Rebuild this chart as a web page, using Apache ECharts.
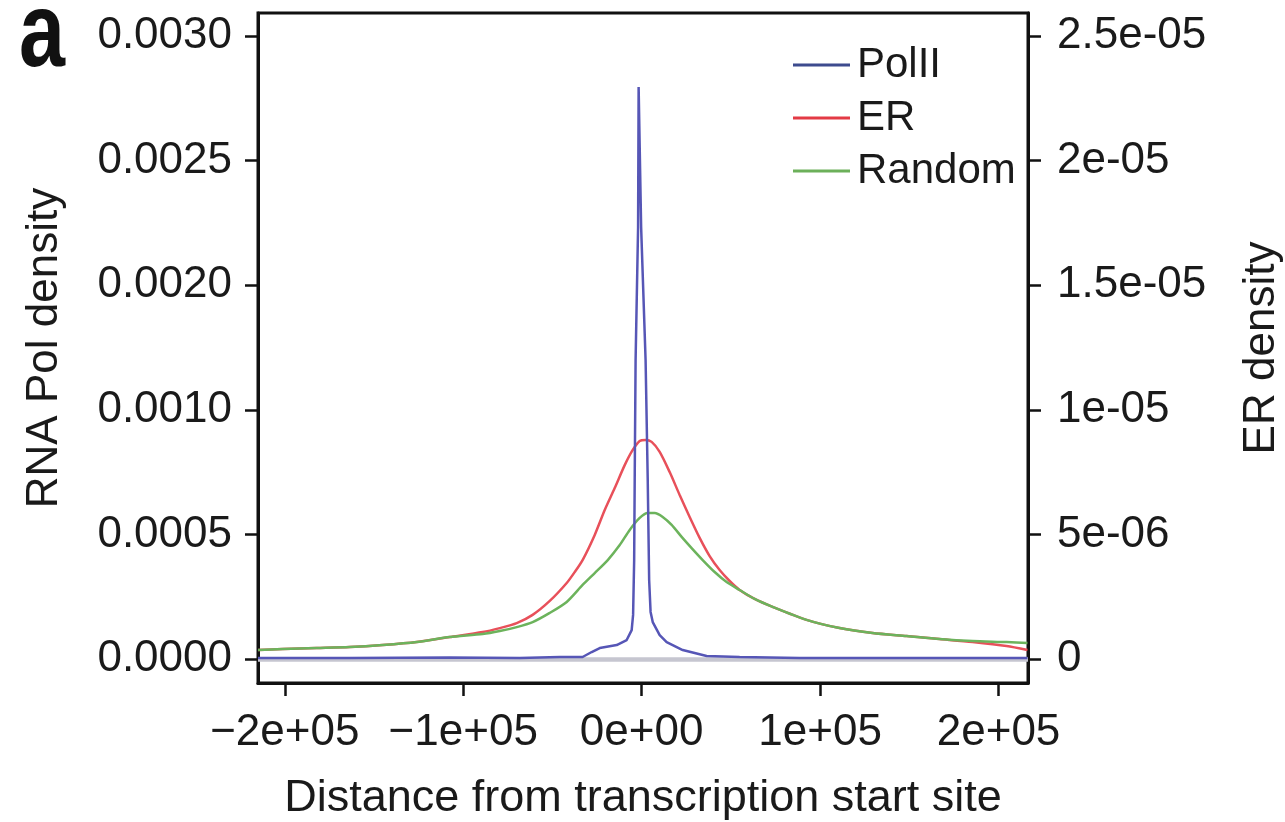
<!DOCTYPE html>
<html>
<head>
<meta charset="utf-8">
<script src="https://cdn.jsdelivr.net/npm/echarts@6/dist/echarts.min.js"></script>
<style>
html,body{margin:0;padding:0;background:#fff;}
#chart{width:1285px;height:822px;}
</style>
</head>
<body>
<div id="chart"></div>
<script>
// ---- data (x: distance from TSS in bp) ----
const polII = [
  [-215000, 0.000004], [-163600, 0.000004], [-107600, 0.000006], [-68300, 0.000004],
  [-45900, 0.000008], [-33100, 0.000008], [-28000, 0.000028], [-23500, 0.000044],
  [-14000, 0.000056], [-8400, 0.000076], [-5600, 0.000116], [-4800, 0.000177],
  [-4200, 0.000397], [-3900, 0.000718], [-3400, 0.0012], [-2000, 0.001733],
  [-1700, 0.002295], [-300, 0.001733], [2200, 0.0012], [3400, 0.000718],
  [4200, 0.000317], [5000, 0.000189], [6200, 0.000148], [10100, 0.000096],
  [14000, 0.000068], [23000, 0.000036], [36400, 0.000012], [54900, 0.000008],
  [88500, 0.000004], [144500, 0.000004], [216200, 0.000004]
];
const er = [
  [-215000, 3.6e-7], [-201100, 4.0e-7], [-182100, 4.4e-7], [-163600, 4.8e-7],
  [-145100, 5.6e-7], [-126000, 6.8e-7], [-107600, 8.8e-7], [-89100, 1.08e-6],
  [-79500, 1.24e-6], [-70000, 1.44e-6], [-61100, 1.77e-6], [-51500, 2.33e-6],
  [-42000, 3.05e-6], [-37500, 3.49e-6], [-33100, 3.97e-6], [-26300, 4.98e-6],
  [-20700, 5.98e-6], [-15100, 6.86e-6], [-9500, 7.78e-6], [-5000, 8.39e-6],
  [-1100, 8.75e-6], [2200, 8.79e-6], [5600, 8.71e-6], [10100, 8.31e-6],
  [15700, 7.50e-6], [21300, 6.58e-6], [26900, 5.70e-6], [32500, 4.86e-6],
  [38100, 4.13e-6], [43700, 3.57e-6], [49300, 3.13e-6], [54900, 2.77e-6],
  [63300, 2.41e-6], [73400, 2.09e-6], [92400, 1.57e-6], [110900, 1.24e-6],
  [129400, 1.04e-6], [148500, 9.2e-7], [166900, 8.0e-7], [185400, 6.8e-7],
  [204500, 5.2e-7], [216200, 3.6e-7]
];
const random = [
  [-215000, 3.6e-7], [-201100, 4.0e-7], [-182100, 4.4e-7], [-163600, 4.8e-7],
  [-145100, 5.6e-7], [-126000, 6.8e-7], [-107600, 8.8e-7], [-89100, 1.00e-6],
  [-79500, 1.12e-6], [-70000, 1.28e-6], [-61100, 1.48e-6], [-51500, 1.85e-6],
  [-42000, 2.29e-6], [-33100, 2.97e-6], [-26300, 3.45e-6], [-19000, 3.97e-6],
  [-12300, 4.57e-6], [-6700, 5.18e-6], [-1100, 5.66e-6], [3400, 5.86e-6],
  [7300, 5.86e-6], [11800, 5.70e-6], [16800, 5.38e-6], [22400, 4.90e-6],
  [28000, 4.45e-6], [34200, 3.97e-6], [40900, 3.49e-6], [47600, 3.09e-6],
  [54900, 2.77e-6], [63300, 2.41e-6], [73400, 2.09e-6], [92400, 1.57e-6],
  [110900, 1.24e-6], [129400, 1.04e-6], [148500, 9.2e-7], [166900, 8.0e-7],
  [185400, 7.2e-7], [204500, 6.8e-7], [216200, 6.4e-7]
];
// ---- ticks ----
const xTicks = [-200000, -100000, 0, 100000, 200000];
const xTickLabels = ['\u22122e+05', '\u22121e+05', '0e+00', '1e+05', '2e+05'];
const leftTicks = [0, 0.0005, 0.0010, 0.0015, 0.0020, 0.0025];
const leftTickLabels = ['0.0000', '0.0005', '0.0010', '0.0020', '0.0025', '0.0030'];
const rightTicks = [0, 5e-6, 1e-5, 1.5e-5, 2e-5, 2.5e-5];
const rightTickLabels = ['0', '5e-06', '1e-05', '1.5e-05', '2e-05', '2.5e-05'];
const seriesNames = ['PolII', 'ER', 'Random'];

const FONT = 'Liberation Sans';
const INK = '#1a1a1a';
const AX = '#111';

function lookup(ticks, labels, v) {
  let best = 0, bd = Infinity;
  ticks.forEach((t, i) => { const d = Math.abs(t - v); if (d < bd) { bd = d; best = i; } });
  return labels[best];
}

const chart = echarts.init(document.getElementById('chart'), null, {renderer: 'canvas'});
const axisCommon = {
  axisLine: {show: true, onZero: false, lineStyle: {color: AX, width: 3}},
  axisTick: {show: true, inside: false, length: 13, lineStyle: {color: AX, width: 2.5}},
  splitLine: {show: false},
  nameTextStyle: {fontFamily: FONT, fontSize: 44, color: INK}
};
chart.setOption({
  animation: false,
  backgroundColor: '#ffffff',
  grid: {left: 258, right: 257, top: 13, bottom: 139, show: true, borderColor: AX, borderWidth: 3,
    backgroundColor: 'transparent', containLabel: false, outerBoundsMode: 'none'},
  graphic: [{
    type: 'text', x: 19, y: 37, scaleX: 0.78,
    style: {text: 'a', font: 'bold 106px "Liberation Sans"', fill: '#111', verticalAlign: 'middle', textVerticalAlign: 'middle'}
  }],
  legend: {
    orient: 'vertical', left: 788, top: 38, itemWidth: 57, itemHeight: 3, itemGap: 9,
    icon: 'rect',
    data: [
      {name: seriesNames[0], itemStyle: {color: '#3d4b8e'}},
      {name: seriesNames[1], itemStyle: {color: '#e33a45'}},
      {name: seriesNames[2], itemStyle: {color: '#6cb05a'}}
    ],
    textStyle: {fontFamily: FONT, fontSize: 42, lineHeight: 44, color: INK, padding: [0, 0, 0, 2]}
  },
  xAxis: Object.assign({}, axisCommon, {
    type: 'value', min: -215000, max: 216500, position: 'bottom',
    name: 'Distance from transcription start site', nameLocation: 'middle', nameGap: 93,
    nameTextStyle: {fontFamily: FONT, fontSize: 45, color: INK},
    axisTick: Object.assign({}, axisCommon.axisTick, {customValues: xTicks}),
    axisLabel: {customValues: xTicks, fontFamily: FONT, fontSize: 44, color: INK, margin: 28,
      formatter: v => lookup(xTicks, xTickLabels, v)}
  }),
  yAxis: [
    Object.assign({}, axisCommon, {
      type: 'value', position: 'left', min: -0.0000963, max: 0.002592,
      name: 'RNA Pol density', nameLocation: 'middle', nameGap: 191,
      axisTick: Object.assign({}, axisCommon.axisTick, {customValues: leftTicks}),
      axisLabel: {customValues: leftTicks, fontFamily: FONT, fontSize: 44, color: INK, margin: 26,
        formatter: v => lookup(leftTicks, leftTickLabels, v)}
    }),
    Object.assign({}, axisCommon, {
      type: 'value', position: 'right', min: -9.63e-7, max: 2.592e-5,
      name: 'ER density', nameLocation: 'middle', nameGap: 212,
      axisTick: Object.assign({}, axisCommon.axisTick, {customValues: rightTicks}),
      axisLabel: {customValues: rightTicks, fontFamily: FONT, fontSize: 44, color: INK, margin: 29,
        formatter: v => lookup(rightTicks, rightTickLabels, v)}
    })
  ],
  series: [
    {
      name: seriesNames[0], type: 'line', yAxisIndex: 0, data: polII, showSymbol: false,
      lineStyle: {color: '#5656b6', width: 2.5}, itemStyle: {color: '#5656b6'}, z: 3,
      markLine: {silent: true, symbol: 'none', z: 1, label: {show: false},
        lineStyle: {color: '#c6c6d0', width: 4.5, type: 'solid'}, data: [{yAxis: 0}]}
    },
    {
      name: seriesNames[1], type: 'line', yAxisIndex: 1, data: er, showSymbol: false,
      smooth: 0.25,
      lineStyle: {color: '#e8505a', width: 2.5}, itemStyle: {color: '#e8505a'}, z: 2
    },
    {
      name: seriesNames[2], type: 'line', yAxisIndex: 1, data: random, showSymbol: false,
      smooth: 0.25,
      lineStyle: {color: '#6cb35c', width: 2.5}, itemStyle: {color: '#6cb35c'}, z: 2
    }
  ]
});
</script>
</body>
</html>
